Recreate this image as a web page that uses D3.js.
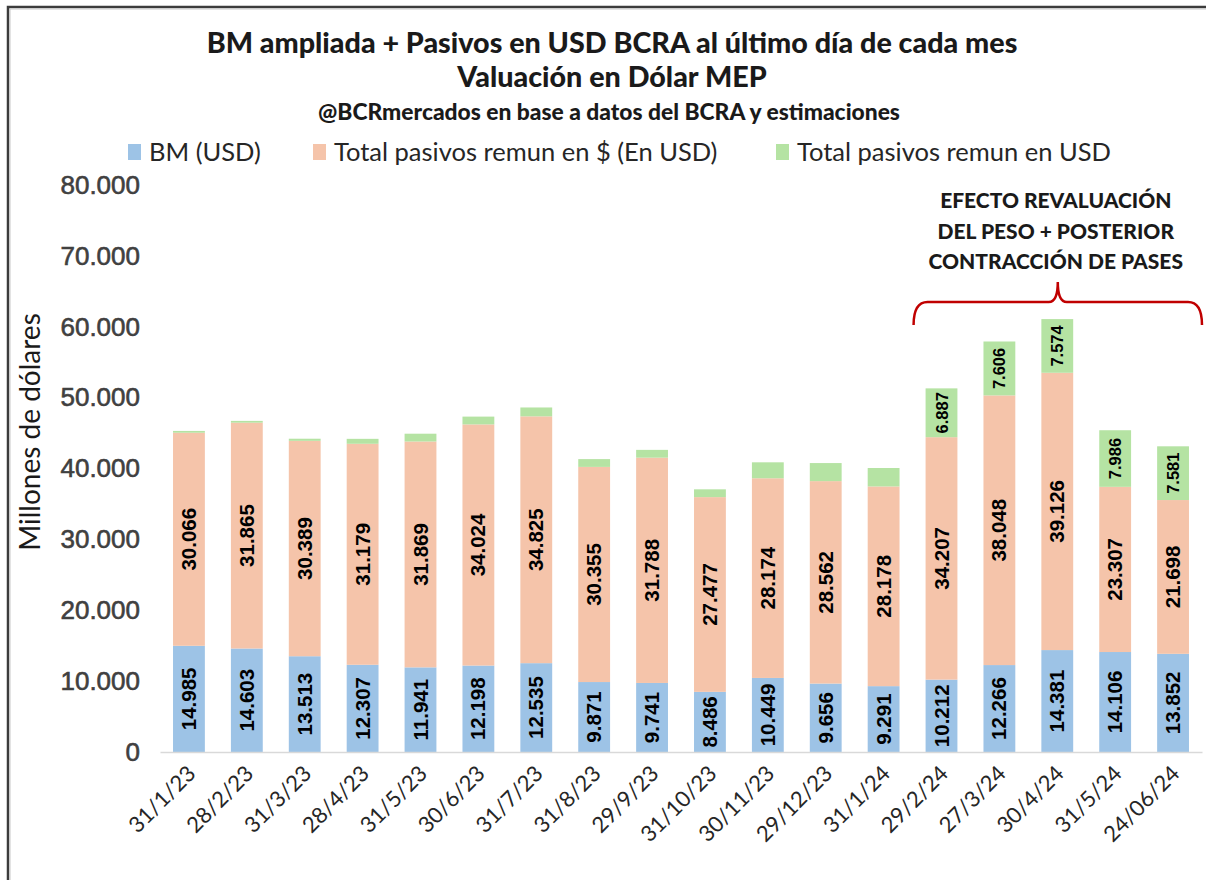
<!DOCTYPE html>
<html>
<head>
<meta charset="utf-8">
<script src="https://cdn.jsdelivr.net/npm/d3@7"></script>
<style>
  body { margin: 0; background: #fff; }
  svg { display: block; }
</style>
</head>
<body>
<div id="chart"></div>
<script>
// fechas (eje X)
var fechas = ['31/1/23', '28/2/23', '31/3/23', '28/4/23', '31/5/23', '30/6/23', '31/7/23', '31/8/23',
    '29/9/23', '31/10/23', '30/11/23', '29/12/23', '31/1/24', '29/2/24', '27/3/24', '30/4/24',
    '31/5/24', '24/06/24'];

// BM (USD)
var bmUsd = [14985, 14603, 13513, 12307, 11941, 12198, 12535, 9871, 9741, 8486, 10449, 9656, 9291,
    10212, 12266, 14381, 14106, 13852];

// Total pasivos remun en $ (En USD)
var pasivosPesos = [30066, 31865, 30389, 31179, 31869, 34024, 34825, 30355, 31788, 27477, 28174,
    28562, 28178, 34207, 38048, 39126, 23307, 21698];

// Total pasivos remun en USD (los primeros no tienen etiqueta, estimados del grafico)
var pasivosUsd = [250, 250, 300, 700, 1100, 1100, 1250, 1100, 1100, 1100, 2250, 2550, 2600,
    6887, 7606, 7574, 7986, 7581];
var etiquetaUsd = [false, false, false, false, false, false, false, false, false, false, false,
    false, false, true, true, true, true, true];

var yTicks = [0, 10000, 20000, 30000, 40000, 50000, 60000, 70000, 80000];

var series = ['bm', 'pesos', 'usd'];
var nombres = ['BM (USD)', 'Total pasivos remun en $ (En USD)', 'Total pasivos remun en USD'];
var colores = ['#9dc3e6', '#f5c4aa', '#b5e3a3'];

var W = 1206, H = 880;
var fmt = d3.formatLocale({decimal: ',', thousands: '.', grouping: [3], currency: ['$', '']}).format(',d');

var tabla = fechas.map(function (f, i) {
    return {fecha: f, bm: bmUsd[i], pesos: pasivosPesos[i], usd: pasivosUsd[i], lbl: etiquetaUsd[i]};
});
var stacked = d3.stack().keys(series)(tabla);

var svg = d3.select('#chart').append('svg')
    .attr('width', W)
    .attr('height', H);

// marco
svg.append('path').attr('d', 'M8,880 V7 H1206').attr('fill', 'none')
    .attr('stroke', '#3c3c3c').attr('stroke-width', 2.5);
svg.append('path').attr('d', 'M10,880 V9 H1206').attr('fill', 'none')
    .attr('stroke', '#c8c8c8').attr('stroke-width', 1);

var x = d3.scaleBand().domain(fechas).range([160, 1202]).paddingInner(0.45).paddingOuter(0.225);
var y = d3.scaleLinear().domain([0, 80000]).range([752, 185]);

// titulos
svg.append('text').attr('x', 612).attr('y', 53).attr('text-anchor', 'middle')
    .style('font', '900 28.7px Lato').attr('fill', '#1a1a1a')
    .text('BM ampliada + Pasivos en USD BCRA al último día de cada mes');
svg.append('text').attr('x', 612).attr('y', 87).attr('text-anchor', 'middle')
    .style('font', '900 28.7px Lato').attr('fill', '#1a1a1a')
    .text('Valuación en Dólar MEP');
svg.append('text').attr('x', 609).attr('y', 120).attr('text-anchor', 'middle')
    .style('font', '900 22.8px Lato').attr('fill', '#1a1a1a')
    .text('@BCRmercados en base a datos del BCRA y estimaciones');

// leyenda
var legX = [128, 313, 776];
var leg = svg.append('g').selectAll('g').data(nombres).enter().append('g')
    .attr('transform', (d, i) => `translate(${legX[i]},144)`);
leg.append('rect').attr('width', 13).attr('height', 16).attr('fill', (d, i) => colores[i]);
leg.append('text').attr('x', 21).attr('y', 17)
    .style('font', '25.5px Lato').attr('fill', '#262626').text((d) => d);

// eje Y
var yAxis = svg.append('g').attr('transform', 'translate(140,0)')
    .call(d3.axisLeft(y).tickValues(yTicks).tickFormat(fmt).tickSize(0).tickPadding(0));
yAxis.select('.domain').remove();
yAxis.selectAll('text').style('font', '26px "Liberation Sans", Arial')
    .attr('fill', '#404040').attr('stroke', '#404040').attr('stroke-width', 0.6);

svg.append('text')
    .attr('transform', `translate(40,${432}) rotate(-90)`)
    .attr('text-anchor', 'middle')
    .style('font', '28px Lato').attr('fill', '#1a1a1a')
    .text('Millones de dólares');

// barras
var capas = svg.append('g').selectAll('g').data(stacked).enter().append('g')
    .attr('fill', (d, i) => colores[i]);
capas.selectAll('rect').data((d) => d).enter().append('rect')
    .attr('x', (d) => x(d.data.fecha))
    .attr('width', x.bandwidth())
    .attr('y', (d) => y(d[1]))
    .attr('height', (d) => y(d[0]) - y(d[1]));

// etiquetas de datos
capas.each(function (serie, si) {
    d3.select(this).selectAll('text')
        .data(serie.filter((d) => si < 2 || d.data.lbl))
        .enter().append('text')
        .attr('transform', (d) => `translate(${x(d.data.fecha) + x.bandwidth() / 2 + (si < 2 ? 7 : 6)},${(y(d[0]) + y(d[1])) / 2}) rotate(-90)`)
        .attr('text-anchor', 'middle')
        .style('font', si < 2 ? 'bold 20.5px "Liberation Sans", Arial' : 'bold 16.5px "Liberation Sans", Arial')
        .attr('fill', '#000')
        .text((d) => fmt(d[1] - d[0]));
});

// eje X
var xAxis = svg.append('g').attr('transform', 'translate(0,752)')
    .call(d3.axisBottom(x).tickSize(0).tickPadding(0));
xAxis.select('.domain').attr('stroke', '#d9d9d9').attr('stroke-width', 1.5);
xAxis.selectAll('text')
    .attr('text-anchor', 'end')
    .attr('dy', null).attr('y', 0)
    .attr('transform', 'translate(8,23) rotate(-45)')
    .style('font', '22px Lato').attr('fill', '#262626');

// anotacion
var izq = x(fechas[13]) - 12, der = 1202, mid = (izq + der) / 2;
var llave = d3.path();
llave.moveTo(izq, 325);
llave.quadraticCurveTo(izq, 302, izq + 14, 302);
llave.lineTo(mid - 9, 302);
llave.quadraticCurveTo(mid, 302, mid, 282);
llave.quadraticCurveTo(mid, 302, mid + 9, 302);
llave.lineTo(der - 14, 302);
llave.quadraticCurveTo(der, 302, der, 325);
svg.append('path').attr('d', llave.toString()).attr('fill', 'none')
    .attr('stroke', '#c00000').attr('stroke-width', 2.5);

var notas = ['EFECTO REVALUACIÓN', 'DEL PESO + POSTERIOR', 'CONTRACCIÓN DE PASES'];
svg.append('g').selectAll('text').data(notas).enter().append('text')
    .attr('x', mid - 2).attr('y', (d, i) => 208 + i * 30.5)
    .attr('text-anchor', 'middle')
    .style('font', '900 21px Lato').attr('fill', '#1a1a1a')
    .text((d) => d);
</script>
</body>
</html>
